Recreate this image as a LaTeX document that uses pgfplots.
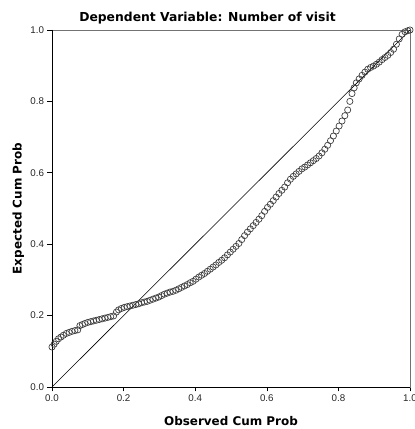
\documentclass[border=0pt]{standalone}
\usepackage{pgfplots}
\pgfplotsset{compat=1.18}
\usepackage{fontspec}
\setmainfont{Liberation Sans}
\newfontfamily\labelfont{DejaVu Sans}
\begin{document}
\begin{tikzpicture}
\useasboundingbox (-52bp,-42bp) rectangle (363bp,387bp);
\begin{axis}[
  at={(0,0)}, anchor=origin,
  scale only axis, width=358bp, height=357bp,
  xmin=0, xmax=1, ymin=0, ymax=1,
  xtick={0,0.2,...,1.0}, ytick={0,0.2,...,1.0},
  /pgf/number format/assume math mode=true,
  xticklabel style={/pgf/number format/.cd,fixed,fixed zerofill,precision=1},
  yticklabel style={/pgf/number format/.cd,fixed,fixed zerofill,precision=1},
  tick label style={font=\fontsize{9.8}{11}\selectfont, text=black!85},
  tick align=outside, tick pos=left, major tick length=4.5bp,
  tick style={black, line width=0.6pt},
  axis line style={draw=black!55, line width=0.7pt},
  xlabel={Observed Cum Prob}, ylabel={Expected Cum Prob},
  label style={font=\labelfont\bfseries\fontsize{12}{14}\selectfont},
  xlabel style={at={(axis description cs:0.5,0)}, anchor=center, yshift=-34.5bp},
  ylabel style={at={(axis description cs:0,0.5)}, anchor=center, yshift=33.7bp},
  clip=false,
]
\addplot[black, line width=0.6pt, forget plot] coordinates {(0,0) (1,1)};
\addplot[only marks, mark=o, mark size=3.1bp, mark options={draw=black!75, line width=0.7pt}] table {
x y
0.000 0.112
0.006 0.120
0.012 0.128
0.018 0.135
0.025 0.140
0.032 0.145
0.040 0.150
0.048 0.153
0.056 0.156
0.064 0.158
0.072 0.160
0.078 0.172
0.085 0.175
0.092 0.178
0.100 0.181
0.108 0.183
0.116 0.185
0.124 0.187
0.132 0.189
0.140 0.191
0.148 0.193
0.156 0.195
0.164 0.197
0.172 0.199
0.180 0.210
0.186 0.216
0.194 0.220
0.202 0.223
0.210 0.225
0.218 0.227
0.226 0.229
0.234 0.231
0.242 0.233
0.250 0.236
0.258 0.238
0.266 0.240
0.274 0.243
0.282 0.246
0.290 0.249
0.298 0.252
0.306 0.256
0.314 0.260
0.322 0.263
0.330 0.266
0.338 0.268
0.346 0.271
0.354 0.275
0.362 0.279
0.370 0.283
0.378 0.287
0.386 0.292
0.394 0.296
0.402 0.302
0.410 0.308
0.418 0.313
0.426 0.318
0.434 0.324
0.442 0.330
0.450 0.336
0.458 0.342
0.466 0.349
0.474 0.355
0.482 0.362
0.490 0.370
0.498 0.378
0.506 0.386
0.514 0.394
0.522 0.402
0.530 0.413
0.538 0.424
0.546 0.434
0.554 0.443
0.562 0.452
0.570 0.461
0.578 0.470
0.586 0.480
0.594 0.492
0.602 0.503
0.610 0.512
0.618 0.522
0.626 0.532
0.634 0.542
0.642 0.551
0.650 0.560
0.658 0.572
0.666 0.582
0.674 0.590
0.682 0.597
0.690 0.604
0.698 0.611
0.706 0.616
0.714 0.622
0.722 0.628
0.730 0.634
0.738 0.640
0.746 0.647
0.754 0.656
0.762 0.666
0.770 0.677
0.778 0.690
0.786 0.703
0.794 0.717
0.802 0.731
0.810 0.745
0.818 0.760
0.826 0.776
0.832 0.800
0.838 0.822
0.844 0.838
0.850 0.852
0.858 0.863
0.866 0.873
0.874 0.882
0.882 0.890
0.890 0.895
0.898 0.899
0.906 0.904
0.914 0.910
0.922 0.917
0.930 0.923
0.938 0.929
0.946 0.937
0.954 0.946
0.962 0.960
0.970 0.975
0.978 0.988
0.986 0.995
0.994 0.998
1.000 1.000
};
\draw[black, line width=0.8pt] (rel axis cs:0,1) -- (rel axis cs:0,0) -- (rel axis cs:1,0);
\end{axis}
\node[font=\labelfont\bfseries\fontsize{12.4}{14}\selectfont, anchor=base] at (155.5bp,365bp) {Dependent Variable: Number of visit};
\end{tikzpicture}
\end{document}
